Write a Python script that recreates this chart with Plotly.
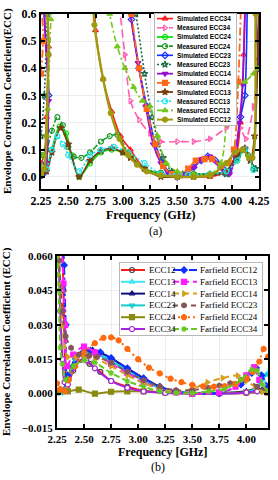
import plotly.graph_objects as go

# ------------------------------------------------------------------ (a) data
a_sim34_x = [2.25, 2.28, 2.30, 2.32, 2.35, 2.70, 2.75, 2.82, 2.90, 2.98, 3.07, 3.20, 3.35, 3.50, 3.65, 3.80, 3.95, 4.03, 4.08, 4.11, 4.14]
a_sim34_y = [0.05, 0.08, 0.22, 0.48, 0.85, 0.85, 0.54, 0.36, 0.24, 0.15, 0.10, 0.03, 0.01, 0.00, 0.00, 0.00, 0.02, 0.06, 0.20, 0.45, 0.85]
a_mea34_x = [2.90, 2.97, 3.02, 3.07, 3.15, 3.25, 3.35, 3.50, 3.65, 3.80, 3.95, 4.03, 4.08, 4.13, 4.20, 4.25]
a_mea34_y = [0.85, 0.62, 0.45, 0.28, 0.21, 0.16, 0.13, 0.13, 0.13, 0.14, 0.18, 0.20, 0.18, 0.14, 0.26, 0.45]
a_sim24_x = [2.25, 2.30, 2.35, 2.42, 2.48, 2.53, 2.60, 2.70, 2.80, 2.90, 3.00, 3.07, 3.20, 3.35, 3.50, 3.65, 3.80, 3.95, 4.05, 4.12, 4.20]
a_sim24_y = [0.01, 0.03, 0.10, 0.185, 0.16, 0.08, 0.00, 0.05, 0.09, 0.10, 0.09, 0.075, 0.03, 0.01, 0.005, 0.01, 0.01, 0.02, 0.06, 0.10, 0.03]
a_mea24_x = [2.25, 2.30, 2.35, 2.40, 2.45, 2.50, 2.55, 2.62, 2.70, 2.80, 2.88, 2.95, 3.05, 3.20, 3.35, 3.50, 3.65, 3.80, 3.95, 4.05, 4.10, 4.15, 4.20]
a_mea24_y = [0.08, 0.10, 0.17, 0.22, 0.19, 0.11, 0.075, 0.07, 0.09, 0.13, 0.15, 0.155, 0.09, 0.03, 0.015, 0.01, 0.01, 0.01, 0.02, 0.07, 0.10, 0.08, 0.03]
a_sim23_x = [2.25, 2.28, 2.30, 2.32, 2.35, 3.00, 3.08, 3.15, 3.22, 3.30, 3.37, 3.44, 3.50, 3.58, 3.65, 3.72, 3.78, 3.85, 3.92, 3.97, 4.03, 4.08, 4.12, 4.16, 4.25]
a_sim23_y = [0.005, 0.015, 0.05, 0.30, 0.85, 0.85, 0.58, 0.40, 0.26, 0.12, 0.05, 0.01, 0.00, 0.01, 0.035, 0.06, 0.075, 0.06, 0.03, 0.02, 0.08, 0.22, 0.30, 0.85, 0.40]
a_mea23_x = [2.25, 2.28, 2.31, 2.35, 3.00, 3.12, 3.20, 3.27, 3.37, 3.45, 3.55, 3.65, 3.80, 3.95, 4.05, 4.12, 4.17, 4.22]
a_mea23_y = [0.15, 0.30, 0.60, 0.85, 0.85, 0.60, 0.38, 0.22, 0.07, 0.02, 0.01, 0.01, 0.01, 0.01, 0.07, 0.10, 0.06, 0.03]
a_sim14_x = [2.25, 2.28, 2.30, 2.32, 2.35, 3.00, 3.07, 3.14, 3.21, 3.28, 3.35, 3.42, 3.50, 3.58, 3.65, 3.72, 3.80, 3.87, 3.93, 3.98, 4.03, 4.07, 4.10, 4.15, 4.25]
a_sim14_y = [0.005, 0.02, 0.05, 0.28, 0.85, 0.85, 0.60, 0.42, 0.26, 0.12, 0.05, 0.01, 0.00, 0.01, 0.035, 0.065, 0.075, 0.05, 0.02, 0.01, 0.08, 0.20, 0.34, 0.85, 0.43]
a_mea14_x = [2.25, 2.27, 2.30, 3.00, 3.08, 3.15, 3.22, 3.30, 3.37, 3.45, 3.52, 3.60, 3.67, 3.75, 3.82, 3.90, 3.97, 4.02, 4.06, 4.10]
a_mea14_y = [0.38, 0.50, 0.85, 0.85, 0.60, 0.40, 0.25, 0.12, 0.04, 0.01, 0.005, 0.03, 0.06, 0.065, 0.065, 0.04, 0.05, 0.10, 0.35, 0.85]
a_sim13_x = [2.25, 2.30, 2.35, 2.43, 2.50, 2.60, 2.70, 2.80, 2.90, 3.00, 3.07, 3.20, 3.35, 3.50, 3.65, 3.80, 3.95, 4.05, 4.12, 4.17, 4.21, 4.25]
a_sim13_y = [0.005, 0.02, 0.09, 0.18, 0.12, 0.00, 0.06, 0.095, 0.105, 0.09, 0.07, 0.03, 0.00, 0.00, 0.00, 0.005, 0.02, 0.08, 0.105, 0.06, 0.15, 0.70]
a_mea13_x = [2.25, 2.30, 2.35, 2.40, 2.45, 2.50, 2.60, 2.70, 2.80, 2.92, 3.05, 3.20, 3.35, 3.50, 3.60, 3.80, 3.95, 4.05, 4.12, 4.20]
a_mea13_y = [0.01, 0.03, 0.10, 0.15, 0.12, 0.08, 0.02, 0.08, 0.10, 0.11, 0.09, 0.05, 0.01, 0.01, 0.008, 0.01, 0.02, 0.06, 0.10, 0.025]
a_mea12_x = [2.25, 2.28, 2.31, 2.34, 2.37, 2.80, 2.88, 2.95, 3.02, 3.10, 3.18, 3.25, 3.32, 3.40, 3.50, 3.65, 3.80, 3.90, 3.97, 4.03, 4.12, 4.20, 4.25]
a_mea12_y = [0.03, 0.08, 0.25, 0.58, 0.85, 0.85, 0.60, 0.48, 0.40, 0.33, 0.28, 0.26, 0.15, 0.05, 0.02, 0.01, 0.01, 0.05, 0.27, 0.33, 0.35, 0.38, 0.40]
a_sim12_x = [2.25, 2.28, 2.30, 2.32, 2.35, 2.68, 2.74, 2.82, 2.89, 2.97, 3.05, 3.13, 3.22, 3.35, 3.50, 3.65, 3.80, 3.95, 4.03, 4.10, 4.16, 4.19, 4.22, 4.25]
a_sim12_y = [0.01, 0.03, 0.15, 0.45, 0.85, 0.85, 0.56, 0.36, 0.235, 0.14, 0.08, 0.045, 0.02, 0.005, 0.00, 0.00, 0.005, 0.05, 0.09, 0.10, 0.07, 0.07, 0.60, 0.85]

a_x_ticks = [2.25, 2.50, 2.75, 3.00, 3.25, 3.50, 3.75, 4.00, 4.25]
a_y_ticks = [0.0, 0.1, 0.2, 0.3, 0.4, 0.5, 0.6]

# ------------------------------------------------------------------ (b) data
b_e12_x = [2.25, 2.29, 2.31, 2.325, 2.34, 2.40, 2.47, 2.55, 2.65, 2.75, 2.90, 3.05, 3.25, 3.50, 3.75, 4.00, 4.20]
b_e12_y = [0.09, 0.075, 0.045, 0.012, 0.003, 0.010, 0.0148, 0.013, 0.0095, 0.0055, 0.003, 0.0013, 0.0005, 0.0, 0.0, 0.0003, 0.001]
b_e13_x = [2.25, 2.30, 2.35, 2.42, 2.50, 2.60, 2.75, 2.90, 3.05, 3.20, 3.35, 3.50, 3.75, 4.00, 4.10, 4.15, 4.20]
b_e13_y = [0.001, 0.0005, 0.006, 0.014, 0.0175, 0.018, 0.0145, 0.010, 0.006, 0.0025, 0.0008, 0.0003, 0.0002, 0.0005, 0.002, 0.006, 0.009]
b_e14_x = [2.25, 2.30, 2.35, 2.42, 2.50, 2.58, 2.75, 2.90, 3.05, 3.20, 3.35, 3.50, 3.75, 4.00, 4.08, 4.15, 4.20]
b_e14_y = [0.001, 0.0008, 0.007, 0.0155, 0.0185, 0.019, 0.0155, 0.011, 0.0068, 0.003, 0.0008, 0.0002, 0.0002, 0.001, 0.002, 0.002, 0.002]
b_e23_x = [2.25, 2.30, 2.35, 2.42, 2.50, 2.60, 2.75, 2.90, 3.05, 3.20, 3.35, 3.50, 3.75, 4.00, 4.10, 4.15, 4.20]
b_e23_y = [0.001, 0.0005, 0.006, 0.0145, 0.0172, 0.0175, 0.014, 0.0098, 0.0058, 0.0024, 0.0007, 0.0003, 0.0002, 0.0006, 0.003, 0.007, 0.0085]
b_e24_x = [2.25, 2.35, 2.45, 2.60, 2.75, 2.90, 3.05, 3.25, 3.50, 3.75, 4.00, 4.20]
b_e24_y = [0.0005, 0.001, 0.0017, 0.0, 0.0008, 0.001, 0.001, 0.0005, 0.0001, 0.0002, 0.0005, 0.0005]
b_e34_x = [2.25, 2.265, 2.28, 2.30, 2.32, 2.35, 2.40, 2.46, 2.52, 2.60, 2.75, 2.90, 3.05, 3.25, 3.50, 3.75, 4.00, 4.10, 4.20]
b_e34_y = [0.07, 0.058, 0.036, 0.015, 0.005, 0.004, 0.011, 0.0158, 0.0145, 0.011, 0.0055, 0.0025, 0.001, 0.0003, 0.0, 0.0, 0.0005, 0.001, 0.002]
b_f12_x = [2.25, 2.30, 2.315, 2.33, 2.345, 2.40, 2.48, 2.56, 2.65, 2.75, 2.90, 3.05, 3.20, 3.35, 3.50, 3.75, 3.95, 4.05, 4.09, 4.14, 4.20]
b_f12_y = [0.09, 0.07, 0.056, 0.03, 0.008, 0.012, 0.0175, 0.0188, 0.018, 0.0155, 0.011, 0.0067, 0.003, 0.0008, 0.0002, 0.0003, 0.004, 0.009, 0.0112, 0.008, 0.003]
b_f13_x = [2.25, 2.29, 2.31, 2.325, 2.34, 2.40, 2.50, 2.60, 2.75, 2.90, 3.05, 3.20, 3.35, 3.50, 3.75, 3.90, 4.00, 4.07, 4.12, 4.20]
b_f13_y = [0.09, 0.068, 0.048, 0.03, 0.012, 0.017, 0.0205, 0.018, 0.013, 0.009, 0.005, 0.002, 0.0005, 0.0, 0.0005, 0.003, 0.008, 0.0115, 0.006, 0.0005]
b_f14_x = [2.25, 2.27, 2.30, 2.35, 2.43, 2.50, 2.60, 2.75, 2.90, 3.05, 3.20, 3.35, 3.50, 3.64, 3.78, 3.92, 4.00, 4.08, 4.15, 4.20]
b_f14_y = [0.07, 0.058, 0.03, 0.016, 0.0158, 0.016, 0.0155, 0.012, 0.008, 0.0045, 0.002, 0.001, 0.002, 0.0049, 0.0068, 0.0078, 0.0055, 0.003, 0.0008, 0.0005]
b_f23_x = [2.25, 2.27, 2.30, 2.33, 2.38, 2.45, 2.55, 2.62, 2.75, 2.90, 3.05, 3.20, 3.35, 3.50, 3.65, 3.75, 3.85, 3.95, 4.00, 4.10, 4.20]
b_f23_y = [0.075, 0.058, 0.036, 0.025, 0.02, 0.017, 0.0165, 0.016, 0.0135, 0.0095, 0.0058, 0.003, 0.0015, 0.0015, 0.0025, 0.0035, 0.0045, 0.006, 0.007, 0.003, 0.001]
b_f24_x = [2.25, 2.28, 2.32, 2.36, 2.42, 2.50, 2.60, 2.68, 2.75, 2.82, 2.90, 3.00, 3.10, 3.20, 3.30, 3.40, 3.50, 3.60, 3.70, 3.80, 3.90, 4.00, 4.06, 4.12, 4.16, 4.20]
b_f24_y = [0.0045, 0.002, 0.001, 0.006, 0.012, 0.018, 0.022, 0.0243, 0.0245, 0.0232, 0.0195, 0.015, 0.0113, 0.0088, 0.0065, 0.005, 0.0038, 0.0032, 0.003, 0.0032, 0.0042, 0.0065, 0.0095, 0.014, 0.0195, 0.016]
b_f34_x = [2.25, 2.265, 2.28, 2.30, 2.33, 2.40, 2.50, 2.60, 2.75, 2.90, 3.05, 3.20, 3.35, 3.50, 3.65, 3.80, 3.95, 4.05, 4.10, 4.15, 4.20]
b_f34_y = [0.065, 0.045, 0.02, 0.013, 0.006, 0.012, 0.0145, 0.0135, 0.009, 0.0055, 0.003, 0.001, 0.0003, 0.0002, 0.001, 0.002, 0.006, 0.0105, 0.010, 0.004, 0.001]

b_x_ticks = [2.25, 2.50, 2.75, 3.00, 3.25, 3.50, 3.75, 4.00]
b_y_ticks = [-0.015, 0.0, 0.015, 0.030, 0.045, 0.060]

# ------------------------------------------------------------------ styles
SERIF = "Times New Roman, Liberation Serif, serif"
SANS = "Arial, Liberation Sans, sans-serif"

a_series = [
    ("Simulated ECC34", a_sim34_x, a_sim34_y, "#ff1a1a", "solid", "triangle-up-open", 1.6),
    ("Measured ECC34", a_mea34_x, a_mea34_y, "#ff5fb0", "8px,4px", "triangle-right-open", 1.6),
    ("Simulated ECC24", a_sim24_x, a_sim24_y, "#11e011", "solid", "circle-open", 1.8),
    ("Measured ECC24", a_mea24_x, a_mea24_y, "#1e9a2a", "6px,2px,2px,2px", "circle-open", 1.6),
    ("Simulated ECC23", a_sim23_x, a_sim23_y, "#1030ff", "solid", "diamond-open", 1.6),
    ("Measured ECC23", a_mea23_x, a_mea23_y, "#1d6b4e", "2px,2px", "star-open", 1.6),
    ("Simulated ECC14", a_sim14_x, a_sim14_y, "#9a10d0", "solid", "triangle-down", 1.8),
    ("Measured ECC14", a_mea14_x, a_mea14_y, "#ff6a1a", "8px,3px,2px,3px", "square", 1.8),
    ("Simulated ECC13", a_sim13_x, a_sim13_y, "#7a3e10", "solid", "star", 1.8),
    ("Measured ECC13", a_mea13_x, a_mea13_y, "#22e4f0", "2px,2px", "circle-open", 1.8),
    ("Measured ECC12", a_mea12_x, a_mea12_y, "#72c81a", "6px,3px,2px,3px", "triangle-up", 1.6),
    ("Simulated ECC12", a_sim12_x, a_sim12_y, "#a09a10", "solid", "circle", 2.4),
]

b_series = [
    ("ECC12", b_e12_x, b_e12_y, "#ff1a1a", "solid", "circle-open", "#444444"),
    ("ECC13", b_e13_x, b_e13_y, "#40e6f2", "solid", "triangle-up-open", "#40e6f2"),
    ("ECC14", b_e14_x, b_e14_y, "#10107a", "solid", "triangle-up-open", "#10107a"),
    ("ECC23", b_e23_x, b_e23_y, "#14cccc", "solid", "triangle-down-open", "#14cccc"),
    ("ECC24", b_e24_x, b_e24_y, "#8a8a10", "solid", "square", "#8a8a10"),
    ("ECC34", b_e34_x, b_e34_y, "#a424e0", "solid", "circle-open", "#a424e0"),
    ("Farfield ECC12", b_f12_x, b_f12_y, "#1030ff", "8px,3px,2px,3px", "diamond", "#1030ff"),
    ("Farfield ECC13", b_f13_x, b_f13_y, "#ff1aff", "6px,4px", "square", "#ff1aff"),
    ("Farfield ECC14", b_f14_x, b_f14_y, "#d4a020", "6px,4px", "triangle-right", "#d4a020"),
    ("Farfield ECC23", b_f23_x, b_f23_y, "#84565a", "5px,4px", "hexagon", "#84565a"),
    ("Farfield ECC24", b_f24_x, b_f24_y, "#ff6a10", "2px,3px", "circle", "#ff6a10"),
    ("Farfield ECC34", b_f34_x, b_f34_y, "#66c820", "6px,3px", "asterisk-open", "#66c820"),
]

fig = go.Figure()

# ---------------- main traces (a)
for name, xs, ys, col, dash, sym, lw in a_series:
    fig.add_trace(go.Scatter(
        x=xs, y=ys, name=name, mode="lines+markers", xaxis="x", yaxis="y",
        line=dict(color=col, width=lw, dash=dash, shape="spline", smoothing=0.8),
        marker=dict(symbol=sym, size=5, color=col, line=dict(color=col, width=1.2)),
        showlegend=False))

# ---------------- main traces (b)
for name, xs, ys, col, dash, sym, mcol in b_series:
    mk = dict(symbol=sym, size=5, color=mcol, line=dict(color=mcol, width=1.2))
    if name == "ECC34":
        mk = dict(symbol="circle", size=5, color="white", line=dict(color=col, width=1.2))
    fig.add_trace(go.Scatter(
        x=xs, y=ys, name=name, mode="lines+markers", xaxis="x2", yaxis="y2",
        line=dict(color=col, width=2, dash=dash, shape="spline", smoothing=0.8),
        marker=mk, showlegend=False))

# ---------------- custom legends (drawn on their own small axes)
W, H = 278, 480
a_leg_box = (155, 236, 14, 125)   # px: left, right, top, bottom
b_leg_box = (120, 262, 263, 335)

def box_domain(box):
    l, r, t, b = box
    return [l / W, r / W], [1 - b / H, 1 - t / H]

annotations = []

def add_legend_frame(xa, ya, box):
    wpx, hpx = box[1] - box[0], box[3] - box[2]
    fig.add_trace(go.Scatter(
        x=[0, wpx, wpx, 0, 0], y=[0, 0, hpx, hpx, 0], mode="lines", fill="toself",
        fillcolor="white", line=dict(width=0), xaxis=xa, yaxis=ya,
        hoverinfo="skip", showlegend=False))

def add_key(xa, ya, x0, x1, xm, yv, col, dash, lw, mk):
    fig.add_trace(go.Scatter(
        x=[x0, x1], y=[yv, yv], mode="lines", xaxis=xa, yaxis=ya,
        line=dict(color=col, width=lw, dash=dash), hoverinfo="skip", showlegend=False))
    fig.add_trace(go.Scatter(
        x=[xm], y=[yv], mode="markers", xaxis=xa, yaxis=ya,
        marker=mk, hoverinfo="skip", showlegend=False))

# legend (a)
add_legend_frame("x3", "y3", a_leg_box)
for i, (name, xs, ys, col, dash, sym, lw) in enumerate(a_series):
    yv = 4.6 + 9.18 * i
    add_key("x3", "y3", 2, 18, 10, yv, col, dash, min(lw, 2),
            dict(symbol=sym, size=5, color=col, line=dict(color=col, width=1.2)))
    annotations.append(dict(x=19.5, y=yv, xref="x3", yref="y3", text=name, showarrow=False,
                            xanchor="left", yanchor="middle",
                            font=dict(family=SANS, size=6.5, color="black", weight="bold")))

# legend (b)
add_legend_frame("x4", "y4", b_leg_box)
for i, (name, xs, ys, col, dash, sym, mcol) in enumerate(b_series):
    row = i % 6
    colm = i // 6
    yv = 7 + 11.8 * row
    if colm == 0:
        x0, x1, xm, xt = 1, 25, 12, 26.5
    else:
        x0, x1, xm, xt = 53, 77, 64, 78
    mk = dict(symbol=sym, size=5, color=mcol, line=dict(color=mcol, width=1.2))
    if name == "ECC34":
        mk = dict(symbol="circle", size=5, color="white", line=dict(color=col, width=1.2))
    add_key("x4", "y4", x0, x1, xm, yv, col, dash, 2, mk)
    annotations.append(dict(x=xt, y=yv, xref="x4", yref="y4", text=name, showarrow=False,
                            xanchor="left", yanchor="middle",
                            font=dict(family=SERIF, size=9, color="black")))

# ---------------- titles / captions as annotations
def pa(px, py):
    return px / W, 1 - py / H

tfont = dict(family=SERIF, size=12, color="black", weight="bold")
for txt, (px, py), ang, fnt in [
    ("Frequency (GHz)", (150, 215), 0, tfont),
    ("Envelope Correlation Coefficient(ECC)", (7, 101), -90, dict(family=SERIF, size=11, color="black", weight="bold")),
    ("(a)", (155, 231), 0, dict(family=SERIF, size=12, color="black")),
    ("Frequency [GHz]", (162, 452), 0, tfont),
    ("Envelope Correlation Coefficient (ECC)", (6, 342), -90, dict(family=SERIF, size=11, color="black", weight="bold")),
    ("(b)", (158, 467), 0, dict(family=SERIF, size=12, color="black")),
]:
    x, y = pa(px, py)
    annotations.append(dict(x=x, y=y, xref="paper", yref="paper", text=txt, showarrow=False,
                            xanchor="center", yanchor="middle", textangle=ang, font=fnt))

axis_common = dict(showline=True, linecolor="black", linewidth=2, mirror="allticks",
                   ticks="inside", ticklen=4, tickwidth=1.5, tickcolor="black",
                   showgrid=True, gridcolor="#ececec", gridwidth=1, zeroline=False,
                   automargin=False)

leg_axis = dict(showline=True, linecolor="#b8b8b8", linewidth=1, mirror=True,
                showgrid=False, zeroline=False, showticklabels=False, ticks="",
                fixedrange=True, automargin=False)

ax_a_x, ax_a_y = [41 / W, 259 / W], [1 - 189 / H, 1 - 14 / H]
ax_b_x, ax_b_y = [57 / W, 268 / W], [1 - 428 / H, 1 - 256 / H]
la_x, la_y = box_domain(a_leg_box)
lb_x, lb_y = box_domain(b_leg_box)

fig.update_layout(
    width=W, height=H,
    margin=dict(l=0, r=0, t=0, b=0),
    paper_bgcolor="white", plot_bgcolor="white",
    showlegend=False,
    xaxis=dict(axis_common, domain=ax_a_x, anchor="y", range=[2.25, 4.25],
               tickvals=a_x_ticks, tickformat=".2f",
               tickfont=dict(family=SERIF, size=12, color="black", weight="bold")),
    yaxis=dict(axis_common, domain=ax_a_y, anchor="x", range=[-0.045, 0.6],
               tickvals=a_y_ticks, tickformat=".1f",
               tickfont=dict(family=SERIF, size=12, color="black", weight="bold")),
    xaxis2=dict(axis_common, domain=ax_b_x, anchor="y2", range=[2.25, 4.2],
                tickvals=b_x_ticks, tickformat=".2f",
                tickfont=dict(family=SERIF, size=11, color="black", weight="bold")),
    yaxis2=dict(axis_common, domain=ax_b_y, anchor="x2", range=[-0.015, 0.06],
                tickvals=b_y_ticks, tickformat=".3f",
                tickfont=dict(family=SERIF, size=11, color="black", weight="bold")),
    xaxis3=dict(leg_axis, domain=la_x, anchor="y3", range=[0, a_leg_box[1] - a_leg_box[0]]),
    yaxis3=dict(leg_axis, domain=la_y, anchor="x3", range=[a_leg_box[3] - a_leg_box[2], 0]),
    xaxis4=dict(leg_axis, domain=lb_x, anchor="y4", range=[0, b_leg_box[1] - b_leg_box[0]]),
    yaxis4=dict(leg_axis, domain=lb_y, anchor="x4", range=[b_leg_box[3] - b_leg_box[2], 0]),
    annotations=annotations,
)

# remove the browser's default 8px body margin so the figure sits at the page origin,
# and hide the hover toolbar
fig.write_html("out.html", config={"displayModeBar": False},
               post_script="document.body.style.margin='0';")
